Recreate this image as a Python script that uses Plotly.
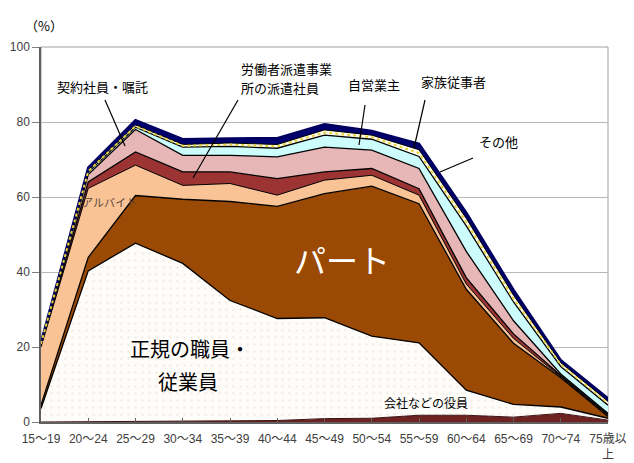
import plotly.graph_objects as go
import numpy as np

categories = ["15～19", "20～24", "25～29", "30～34", "35～39", "40～44", "45～49",
              "50～54", "55～59", "60～64", "65～69", "70～74", "75歳以<br>上"]

yakuin   = [0.0, 0.1, 0.2, 0.3, 0.5, 0.4, 0.9, 1.0, 1.8, 1.8, 1.3, 2.3, 0.5]
seiki    = [3.6, 40.2, 47.5, 42.0, 31.9, 27.2, 26.9, 21.9, 19.3, 6.7, 3.4, 1.7, 0.5]
part     = [0.9, 3.6, 12.7, 17.1, 26.4, 29.9, 33.1, 40.0, 37.1, 26.9, 16.3, 7.8, 0.5]
arbeit   = [15.5, 18.4, 8.1, 3.7, 4.8, 3.0, 3.6, 2.9, 2.3, 1.4, 1.3, 0.3, 0.3]
haken    = [0.4, 1.7, 3.5, 3.6, 3.1, 4.4, 2.2, 1.8, 1.7, 1.7, 1.2, 0.3, 0.2]
keiyaku  = [0.3, 2.0, 6.0, 4.4, 4.4, 5.8, 6.6, 4.9, 5.4, 7.0, 3.5, 0.4, 0.3]
jiei     = [0.1, 0.6, 0.6, 2.2, 2.4, 2.3, 3.2, 2.9, 3.2, 6.8, 5.0, 2.0, 2.2]
kazoku   = [0.1, 0.5, 0.6, 0.7, 0.9, 1.0, 1.4, 1.1, 1.8, 2.0, 1.8, 1.0, 1.0]
sonota   = [0.3, 0.7, 1.3, 1.4, 1.2, 1.7, 1.5, 1.1, 1.6, 1.5, 1.4, 0.7, 0.8]

x = list(range(len(categories)))

series = [
    ("会社などの役員", yakuin, "#6E2222", "#3A1010", 1.0, None),
    ("正規の職員・従業員", seiki, "#FFFDF9", "#000000", 1.3, "dots"),
    ("パート", part, "#9A4A04", "#000000", 1.3, None),
    ("アルバイト", arbeit, "#F9C396", "#000000", 1.0, None),
    ("労働者派遣事業所の派遣社員", haken, "#9C3434", "#000000", 1.3, None),
    ("契約社員・嘱託", keiyaku, "#E7B7B8", "#000000", 1.3, None),
    ("自営業主", jiei, "#CCFCFC", "#000000", 1.3, None),
    ("家族従事者", kazoku, "#FFFFF2", "#000000", 1.0, None),
    ("その他", sonota, "#00006E", "#000060", 2.5, None),
]

fig = go.Figure()
for name, vals, fc, lc, lw, pat in series:
    kw = {}
    if pat == "dots":
        kw["fillpattern"] = dict(shape=".", fgcolor="#E6DED6", bgcolor="#FFFDF9",
                                 size=7, solidity=0.12)
    fig.add_trace(go.Scatter(
        x=x, y=vals, name=name, mode="lines", stackgroup="one",
        fillcolor=fc, line=dict(color=lc, width=lw), hoverinfo="skip", **kw))

# yellow dashes inside the 家族従事者 band
base = np.array(yakuin) + np.array(seiki) + np.array(part) + np.array(arbeit) \
    + np.array(haken) + np.array(keiyaku) + np.array(jiei)
mid = base + np.array(kazoku) / 2
fig.add_trace(go.Scatter(x=x, y=mid, mode="lines", hoverinfo="skip",
                         line=dict(color="#E6CF3C", width=2, dash="dot")))

# the page body has an 8px margin: the figure is placed at (8, 8)
OFF = 8
W, H = 634 - OFF, 463 - OFF
L, R, T, B = 41 - OFF, 26, 47 - OFF, 41
pw = W - L - R
ph = H - T - B


def px(v):  # screen pixel -> paper
    return (v - OFF - L) / pw


def py(v):
    return (H - B - (v - OFF)) / ph


font_jp = "Noto Sans CJK JP"
ann = []


def text(t, xp, yp, size, color="#000000", xanchor="center"):
    ann.append(dict(x=px(xp), y=py(yp), xref="paper", yref="paper", text=t, showarrow=False,
                    xanchor=xanchor, yanchor="middle",
                    font=dict(family=font_jp, size=size, color=color)))


text("（%）", 44, 25, 13)
text("契約社員・嘱託", 102, 86, 13)
text("労働者派遣事業", 239, 68, 13, xanchor="left")
text("所の派遣社員", 239, 88, 13, xanchor="left")
text("自営業主", 374, 84, 13)
text("家族従事者", 453, 81, 13)
text("その他", 498, 141, 13)
text("アルバイト", 109, 202, 11, color="#5A4636")
text("パート", 342, 259, 32, color="#FFFFFF")
text("正規の職員・", 190, 348, 20)
text("従業員", 188, 381, 20)
text("会社などの役員", 426, 402, 12)

shapes = []


def seg(x0, y0, x1, y1):
    shapes.append(dict(type="line", xref="paper", yref="paper", x0=px(x0), y0=py(y0),
                       x1=px(x1), y1=py(y1), line=dict(color="#000000", width=1.2)))


seg(105, 100, 125, 146)
seg(238, 100, 193, 178)
seg(365, 105, 359, 145)
seg(425, 100, 414, 148)
seg(473, 158, 440, 172)

# plot frame (grey)
shapes.append(dict(type="rect", xref="x domain", yref="y domain", x0=0, y0=0, x1=1, y1=1,
                   line=dict(color="#A0A0A0", width=1), layer="below"))

fig.update_layout(
    width=W, height=H, margin=dict(l=L, r=R, t=T, b=B, autoexpand=False),
    paper_bgcolor="#FFFFFF", plot_bgcolor="#FFFFFF",
    showlegend=False, annotations=ann, shapes=shapes,
    font=dict(family="Liberation Sans, " + font_jp, size=12, color="#404040"),
)
fig.update_xaxes(range=[0, 12], tickmode="array", tickvals=x, ticktext=categories,
                 showgrid=False, zeroline=False, showline=True, linecolor="#606060",
                 linewidth=1.5, ticks="inside", ticklen=4, tickcolor="#606060",
                 ticklabelstandoff=5, automargin=False,
                 tickfont=dict(size=12, color="#404040", family="Liberation Sans, " + font_jp))
fig.update_yaxes(range=[0, 100], dtick=20, showgrid=True, gridcolor="#B8B8B8",
                 gridwidth=1, zeroline=False, showline=True, linecolor="#606060",
                 linewidth=1.5, ticks="outside", ticklen=7, tickcolor="#808080",
                 automargin=False,
                 tickfont=dict(size=12, color="#404040"))

fig.write_html("out.html")
